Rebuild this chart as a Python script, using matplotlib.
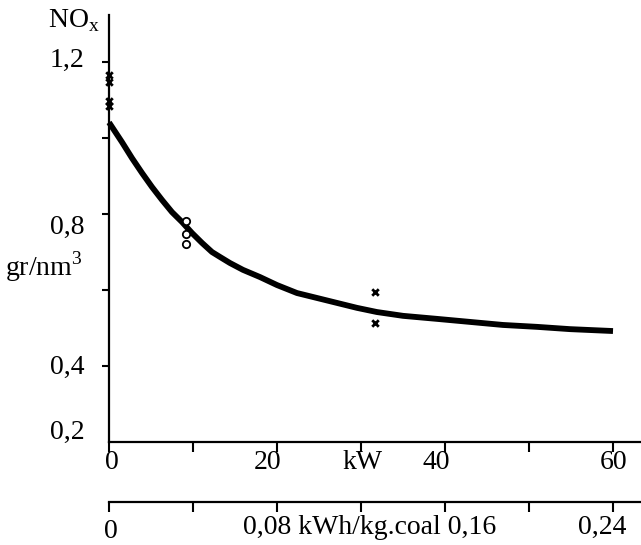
import matplotlib.pyplot as plt

plt.rcParams['font.family'] = ['Liberation Serif', 'DejaVu Serif']

# fitted curve (kW, NOx in gr/nm3)
curve_kw = [0, 1.55, 2.74, 3.93, 5.12, 6.31, 7.50, 8.69, 9.88, 11.07, 12.26, 13.21, 14.40,
            15.95, 17.98, 20.0, 22.38, 24.76, 27.14, 29.52, 31.90, 35.0, 39.05, 42.98,
            46.9, 50.95, 54.88, 60.0]
curve_nox = [1.041, 0.989, 0.947, 0.908, 0.871, 0.837, 0.805, 0.779, 0.750, 0.724, 0.700,
             0.687, 0.671, 0.653, 0.634, 0.613, 0.592, 0.579, 0.566, 0.553, 0.542, 0.532,
             0.524, 0.516, 0.508, 0.503, 0.497, 0.492]

# measured points
cross_kw = [0, 0, 0, 0, 31.7, 31.7]
cross_nox = [1.166, 1.147, 1.097, 1.084, 0.595, 0.513]
circle_kw = [9.2, 9.2, 9.2]
circle_nox = [0.782, 0.747, 0.721]

kw_ticks = [0, 10, 20, 30, 40, 50, 60]
coal_ticks = [0, 0.04, 0.08, 0.12, 0.16, 0.20, 0.24]
nox_ticks = [0.4, 0.6, 0.8, 1.0, 1.2]

W, H = 641, 545
fig = plt.figure(figsize=(W / 100, H / 100), dpi=100)

x0, x1 = 109, 641
y_top, y_bot = 15, 442
ax = fig.add_axes([x0 / W, (H - y_bot) / H, (x1 - x0) / W, (y_bot - y_top) / H])
ax.set_xlim(0, (x1 - x0) / 8.4)
ax.set_ylim(0.2, 1.2 + (62 - y_top) / 380)

for s in ['top', 'right']:
    ax.spines[s].set_visible(False)
for s in ['left', 'bottom']:
    ax.spines[s].set_linewidth(1.6)

ax.set_xticks(kw_ticks)
ax.set_yticks(nox_ticks)
ax.set_xticklabels([])
ax.set_yticklabels([])
ax.tick_params(axis='x', direction='out', length=7, width=1.5)
ax.tick_params(axis='y', direction='out', length=5, width=1.5)

ax.plot(curve_kw, curve_nox, color='black', lw=4.2, solid_capstyle='butt',
        solid_joinstyle='round', clip_on=False)
ax.scatter(cross_kw, cross_nox, marker='x', s=22, color='black', linewidths=2.0, clip_on=False, zorder=5)
ax.scatter(circle_kw, circle_nox, marker='o', s=28, facecolors='white', edgecolors='black',
           linewidths=1.3, zorder=5)

fs = 20
# y labels
lx = -2.9
ax.text(lx, 1.205, '1,2', ha='right', va='center', fontsize=fs, clip_on=False)
ax.text(lx, 0.766, '0,8', ha='right', va='center', fontsize=fs, clip_on=False)
ax.text(lx, 0.397, '0,4', ha='right', va='center', fontsize=fs, clip_on=False)
ax.text(lx, 0.226, '0,2', ha='right', va='center', fontsize=fs, clip_on=False)
ax.text(-3.1, 0.66, 'gr/nm$^{\\mathregular{3}}$', ha='right', va='center', fontsize=fs, clip_on=False)
ax.text(-7.3, 1.292, 'NO$_{\\mathregular{x}}$', ha='left', va='baseline', fontsize=fs, clip_on=False)

# kW axis labels
ry = 0.147
for xv, lab in [(0.3, '0'), (18.9, '20'), (30.2, 'kW'), (39.0, '40'), (60.1, '60')]:
    ax.text(xv, ry, lab, ha='center', va='center', fontsize=fs, clip_on=False)

# second axis: kWh/kg coal
ya = 502
ax2 = fig.add_axes([x0 / W, (H - ya) / H, (x1 - x0) / W, 0.001])
ax2.set_xlim(0, (x1 - x0) / 8.4 * 0.004)
ax2.set_ylim(0, 1)
for s in ['top', 'right', 'left']:
    ax2.spines[s].set_visible(False)
ax2.spines['bottom'].set_linewidth(1.6)
ax2.set_yticks([])
ax2.set_xticks(coal_ticks)
ax2.set_xticklabels([])
ax2.tick_params(axis='x', direction='out', length=7, width=1.5)

ry2 = -0.026
ax.text(0.2, ry2 - 0.01, '0', ha='center', va='center', fontsize=fs, clip_on=False)
ax.text((243 - x0) / 8.4, ry2, '0,08 kWh/kg.coal 0,16', ha='left', va='center', fontsize=fs, clip_on=False)
ax.text((602 - x0) / 8.4, ry2, '0,24', ha='center', va='center', fontsize=fs, clip_on=False)

fig.savefig('out.png', dpi=100)
